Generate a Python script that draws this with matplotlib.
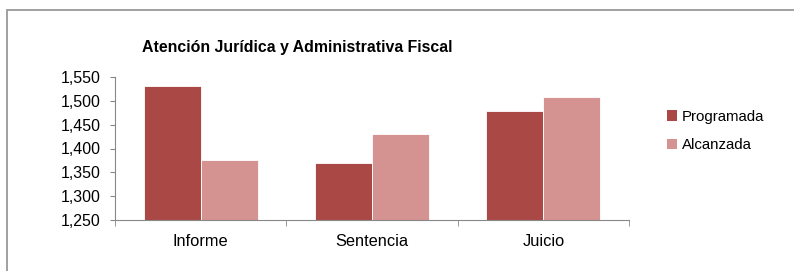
import matplotlib.pyplot as plt
import numpy as np
from matplotlib.patches import Patch, Rectangle

plt.rcParams['font.family'] = ['Liberation Sans', 'DejaVu Sans']

categorias = ['Informe', 'Sentencia', 'Juicio']
programada = [1532, 1370, 1479]
alcanzada = [1376, 1430, 1507]
series = ['Programada', 'Alcanzada']
yticks = [1250, 1300, 1350, 1400, 1450, 1500, 1550]

c_prog = '#AA4846'
c_alc = '#D49291'

fig = plt.figure(figsize=(7.94, 2.71), dpi=100)
# marco exterior del grafico
fig.patches.append(Rectangle((7/794, -0.2), 1.2, 1.2 - 10/271,
                             transform=fig.transFigure, fill=False,
                             edgecolor='#9a9a9a', linewidth=1.3))
ax = fig.add_axes([115/794, 1 - 220/271, 514/794, 143/271])

x = np.arange(len(categorias))
w = 1/3
ax.bar(x - w/2, programada, w, color=c_prog, edgecolor='white', linewidth=0.6)
ax.bar(x + w/2, alcanzada, w, color=c_alc, edgecolor='white', linewidth=0.6)

ax.set_xlim(-0.5, 2.5)
ax.set_ylim(1250, 1550)
ax.set_yticks(yticks)
ax.set_yticklabels(['{:,}'.format(v) for v in yticks])
ax.set_xticks(x)
ax.set_xticklabels(categorias)
ax.set_xticks([-0.5, 0.5, 1.5, 2.5], minor=True)
ax.tick_params(axis='x', which='major', length=0, pad=10, labelsize=11.8)
ax.tick_params(axis='x', which='minor', length=4, color='#888888')
ax.tick_params(axis='y', length=3.6, color='#888888', labelsize=11.5, pad=7)
for s in ['top', 'right']:
    ax.spines[s].set_visible(False)
for s in ['left', 'bottom']:
    ax.spines[s].set_color('#888888')

fig.text(0.375, 1 - 47.5/271, 'Atención Jurídica y Administrativa Fiscal',
         ha='center', va='center', fontsize=11.4, fontweight='bold')

handles = [Patch(facecolor=c_prog), Patch(facecolor=c_alc)]
fig.legend(handles, series, loc='center left', bbox_to_anchor=(653/794, 1 - 131/271),
           frameon=False, fontsize=10.8, handlelength=0.7, handleheight=0.7,
           handletextpad=0.3, labelspacing=0.95)

fig.savefig('out.png', dpi=100)
